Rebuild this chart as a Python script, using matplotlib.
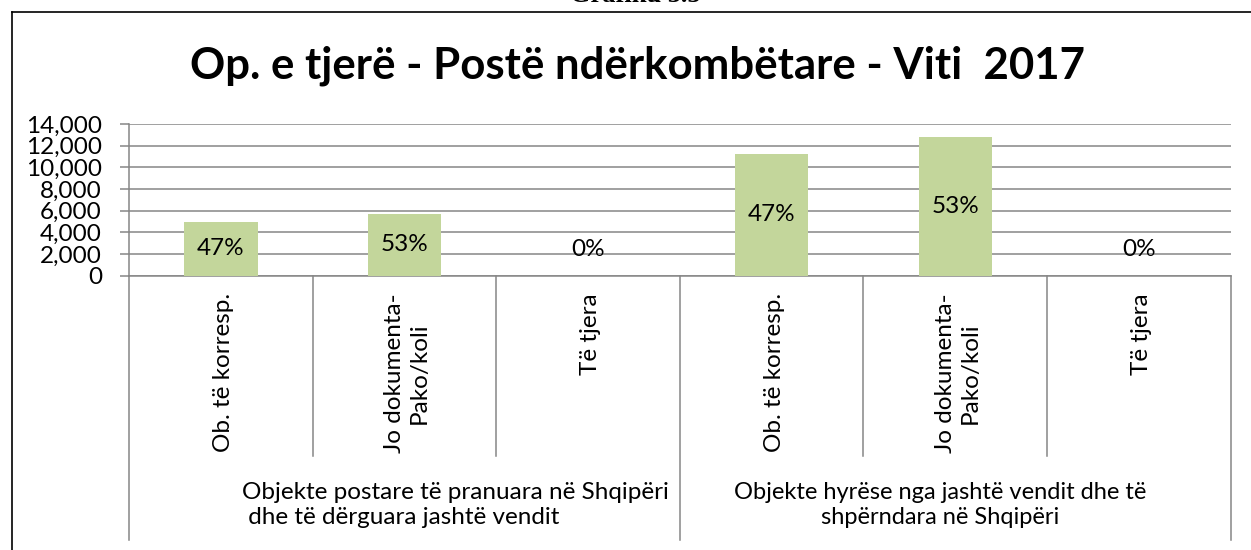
import numpy as np
import matplotlib
matplotlib.use('Agg')
import matplotlib.pyplot as plt
from matplotlib.transforms import blended_transform_factory
from matplotlib.ticker import FuncFormatter

plt.rcParams['font.family'] = ['Lato', 'DejaVu Sans']

# Data
title = 'Op. e tjerë - Postë ndërkombëtare - Viti  2017'
categories = ['Ob. të korresp.', 'Jo dokumenta-\nPako/koli', 'Të tjera',
              'Ob. të korresp.', 'Jo dokumenta-\nPako/koli', 'Të tjera']
groups = ['Objekte postare të pranuara në Shqipëri\n dhe të dërguara jashtë vendit',
          'Objekte hyrëse nga jashtë vendit dhe të\nshpërndara në Shqipëri']
values = [4940, 5680, 0, 11230, 12830, 0]
yticks = [0, 2000, 4000, 6000, 8000, 10000, 12000, 14000]

W, H = 1251, 550
fig = plt.figure(figsize=(W / 100, H / 100), dpi=100)

def fx(px):
    return px / W

def fy(py):
    return 1 - py / H

# outer chart border
fig.add_artist(plt.Line2D([fx(11.5), fx(W + 5)], [fy(11.5), fy(11.5)], color='black', lw=1.2))
fig.add_artist(plt.Line2D([fx(11.5), fx(11.5)], [fy(11.5), fy(H + 5)], color='black', lw=1.2))

# heading above the chart (cut by the top edge, as in the source)
fig.text(fx(635), fy(2), 'Grafiku 3.5', ha='center', va='baseline',
         fontsize=19, fontweight='bold', family='Liberation Serif')

fig.text(fx(637), fy(66), title, ha='center', va='center',
         fontsize=31.5, fontweight='bold')

ax_left, ax_right = 129, 1230.7
ax_top, ax_bot = 124, 275.7
ax = fig.add_axes([fx(ax_left), fy(ax_bot), fx(ax_right - ax_left), (ax_bot - ax_top) / H])

x = np.arange(len(values))
ax.bar(x, values, width=0.4, color='#C3D69B', zorder=3)
ax.set_xlim(-0.5, len(values) - 0.5)
ax.set_ylim(0, 14000)
ax.set_yticks(yticks)
ax.yaxis.set_major_formatter(FuncFormatter(lambda v, p: '{:,.0f}'.format(v)))
ax.yaxis.grid(True, color='#868686', lw=1.1, zorder=0)
ax.set_xticks([])
ax.tick_params(axis='y', length=6.5, width=1.1, color='#868686', pad=13, labelsize=17.5)
for s in ['top', 'right']:
    ax.spines[s].set_visible(False)
for s in ['left', 'bottom']:
    ax.spines[s].set_color('#868686')
    ax.spines[s].set_linewidth(1.1)

# percentage labels within each group
pcts = []
for g in range(2):
    vals = values[g * 3:(g + 1) * 3]
    tot = sum(vals)
    pcts += [v / tot * 100 for v in vals]
for i, (v, p) in enumerate(zip(values, pcts)):
    lab = '{:.0f}%'.format(p)
    if v > 0:
        ax.text(i, v / 2, lab, ha='center', va='center', fontsize=17.5, zorder=4)
    else:
        ax.annotate(lab, (i, 0), xytext=(0, 19), textcoords='offset points',
                    ha='center', va='center', fontsize=17.5, zorder=4)

# multi-level category axis below the plot
tr = blended_transform_factory(ax.transData, fig.transFigure)
for b in [0.5, 1.5, 3.5, 4.5]:
    ax.add_artist(plt.Line2D([b, b], [fy(ax_bot), fy(455.7)], transform=tr,
                             color='#868686', lw=1.1, clip_on=False))
for b in [-0.5, 2.5, 5.5]:
    ax.add_artist(plt.Line2D([b, b], [fy(ax_bot), fy(540)], transform=tr,
                             color='#868686', lw=1.1, clip_on=False))
for i, c in enumerate(categories):
    ax.text(i + 0.015, fy(293), c, transform=tr, rotation=90, ha='center', va='top',
            multialignment='center', fontsize=17.5, linespacing=1.2)

ax.text(0.115, fy(505), groups[0], transform=tr, ha='left', va='center',
        multialignment='left', fontsize=17.5, linespacing=1.25)
ax.text(3.92, fy(505), groups[1], transform=tr, ha='center', va='center',
        multialignment='center', fontsize=17, linespacing=1.25)

fig.savefig('out.png', dpi=100)
